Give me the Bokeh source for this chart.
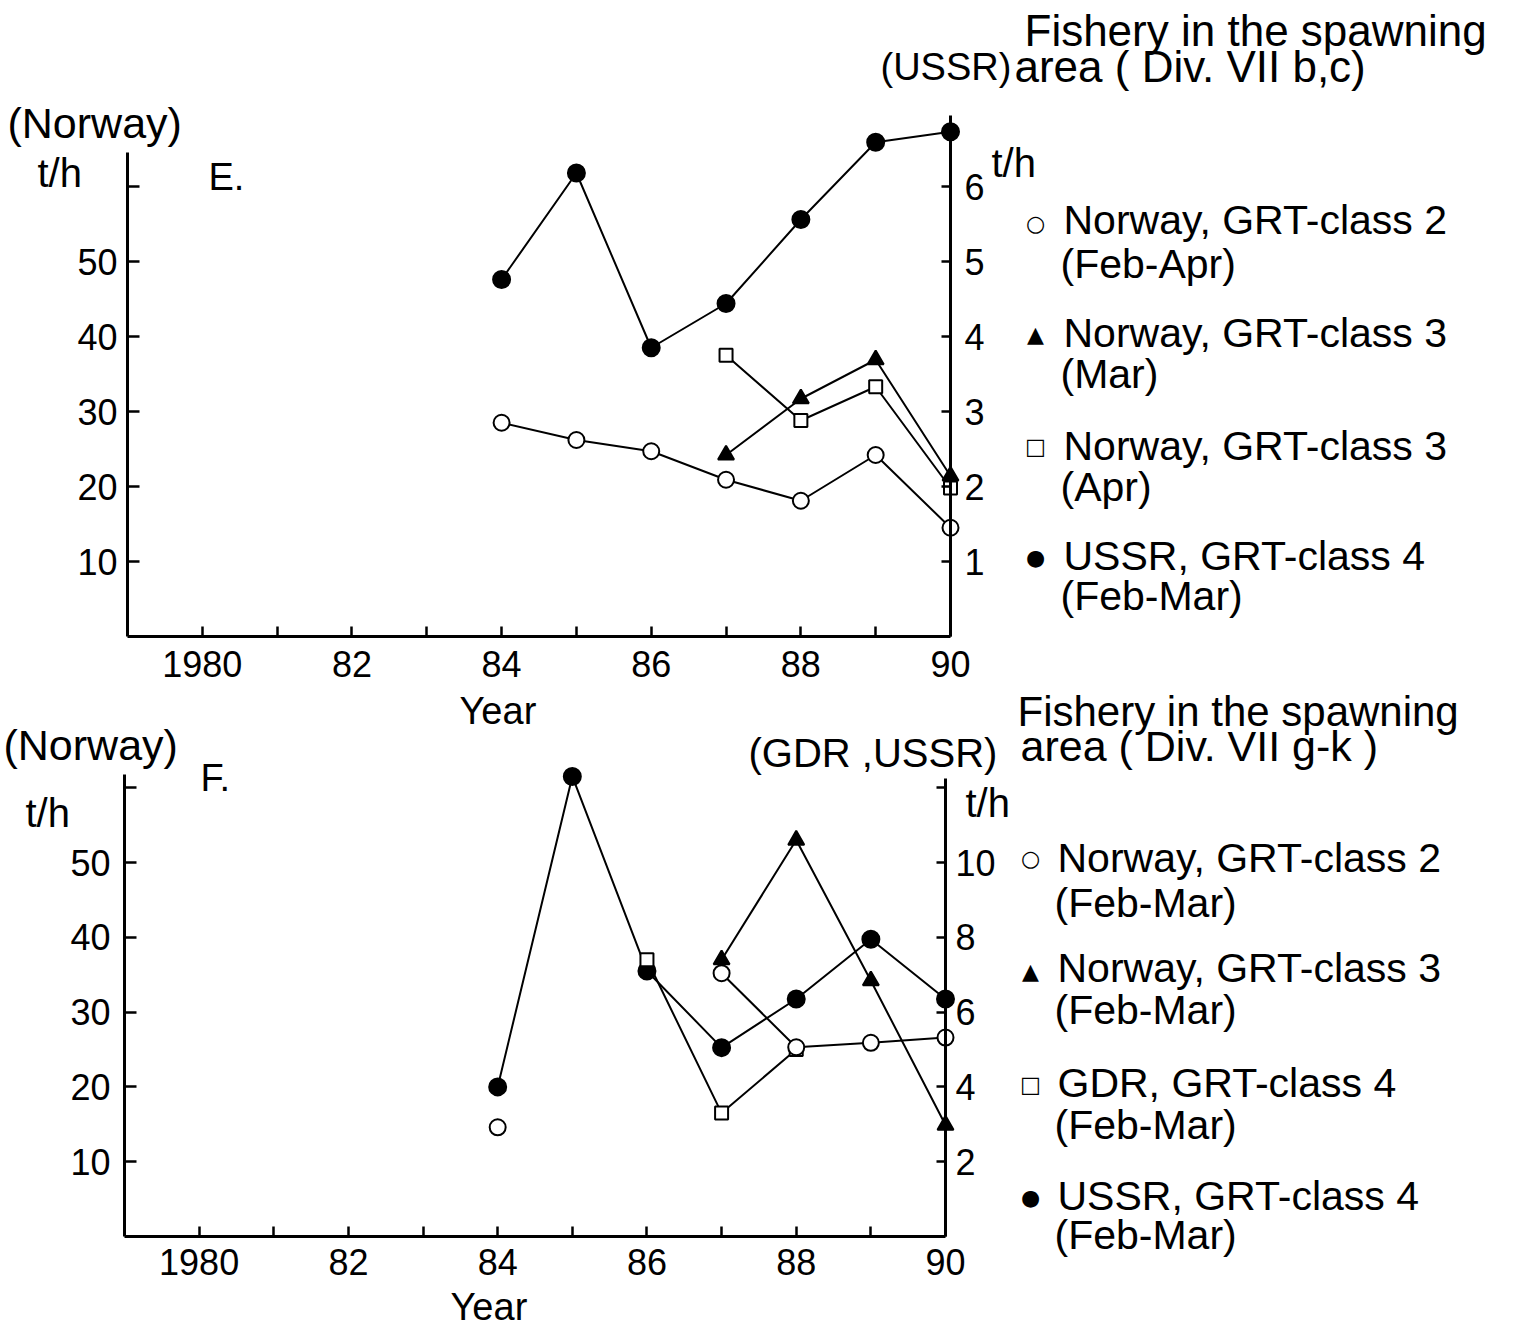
from bokeh.plotting import figure
from bokeh.models import Range1d, LinearAxis, FixedTicker, Label
from bokeh.layouts import column
from bokeh.embed import file_html
from bokeh.resources import INLINE

NAN = float("nan")

# ---------------- data ----------------
years = [1984, 1985, 1986, 1987, 1988, 1989, 1990]
years_late = [1987, 1988, 1989, 1990]
years_gdr = [1986, 1987, 1988]

# Panel E (Div. VII b,c)
e_norway_c2 = [28.5, 26.2, 24.7, 20.9, 18.1, 24.2, 14.5]      # left axis, Feb-Apr
e_norway_c3_mar = [24.2, 31.7, 36.9, 21.4]                    # left axis, 1987-90
e_norway_c3_apr = [37.5, 28.8, 33.3, 19.8]                    # left axis, 1987-90
e_ussr_c4 = [4.76, 6.18, 3.85, 4.44, 5.56, 6.59, 6.73]        # right axis

# Panel F (Div. VII g-k)
f_norway_c2 = [14.6, NAN, NAN, 35.2, 25.3, 25.9, 26.6]        # left axis
f_norway_c3 = [37.0, 53.0, 34.2, 14.9]                        # left axis, 1987-90
f_gdr_c4 = [7.4, 3.3, 5.0]                                    # right axis, 1986-88
f_ussr_c4 = [4.0, 12.3, 7.1, 5.05, 6.35, 7.95, 6.35]          # right axis

x_ticks = list(range(1980, 1991))
x_tick_labels = {1980: "1980", 1982: "82", 1984: "84", 1986: "86", 1988: "88", 1990: "90",
                 1981: "", 1983: "", 1985: "", 1987: "", 1989: ""}
left_ticks = [10, 20, 30, 40, 50, 60]
left_tick_labels = {60: ""}
e_right_ticks = [1, 2, 3, 4, 5, 6]
f_right_ticks = [2, 4, 6, 8, 10, 12]
f_right_tick_labels = {12: ""}

e_legend = [("○", "Norway, GRT-class 2", "(Feb-Apr)"),
            ("▲", "Norway, GRT-class 3", "(Mar)"),
            ("□", "Norway, GRT-class 3", "(Apr)"),
            ("●", "USSR, GRT-class 4", "(Feb-Mar)")]
f_legend = [("○", "Norway, GRT-class 2", "(Feb-Mar)"),
            ("▲", "Norway, GRT-class 3", "(Feb-Mar)"),
            ("□", "GDR, GRT-class 4", "(Feb-Mar)"),
            ("●", "USSR, GRT-class 4", "(Feb-Mar)")]

# ---------------- layout ----------------
W = 1523
X0, X1 = 1979, 1990
FONT = "Liberation Sans"


class Panel:
    """A figure whose frame fills the whole canvas; axes are pinned inside it."""

    def __init__(self, page_top, height, fl, fr, zero_y, ppu, ratio,
                 right_ticks, right_labels, left_bound, right_bound,
                 left_standoff, bottom_standoff, right_standoff):
        self.page_top = page_top
        self.zero_y = zero_y
        self.ppu = ppu
        self.xpp = (X1 - X0) / (fr - fl)
        self.xs = X0 - fl * self.xpp
        xe = X0 + (W - fl) * self.xpp
        ytop = (zero_y - page_top) / ppu
        ybot = (zero_y - (page_top + height)) / ppu
        p = figure(width=W, height=height, title=None, toolbar_location=None,
                   output_backend="svg", x_axis_type=None, y_axis_type=None,
                   x_range=Range1d(self.xs, xe), y_range=Range1d(ybot, ytop))
        p.min_border = 0
        p.min_border_left = p.min_border_right = p.min_border_top = p.min_border_bottom = 0
        p.outline_line_color = None
        p.background_fill_color = "white"
        p.border_fill_color = "white"
        p.extra_y_ranges = {"r": Range1d(ybot / ratio, ytop / ratio)}

        common = dict(axis_line_width=3, axis_line_color="black",
                      major_tick_line_width=2.5, major_tick_line_color="black",
                      minor_tick_line_color=None, major_label_text_color="black",
                      major_label_text_font=FONT, major_label_text_font_size="36px")
        xa = LinearAxis(ticker=FixedTicker(ticks=x_ticks), major_label_overrides=x_tick_labels,
                        major_tick_in=10, major_tick_out=0,
                        major_label_standoff=bottom_standoff,
                        fixed_location=0, bounds=(X0, X1), **common)
        p.add_layout(xa, "below")
        ya = LinearAxis(ticker=FixedTicker(ticks=left_ticks),
                        major_label_overrides=left_tick_labels,
                        major_tick_in=12, major_tick_out=0,
                        major_label_standoff=left_standoff,
                        fixed_location=X0, bounds=(0, left_bound), **common)
        p.add_layout(ya, "left")
        yr = LinearAxis(y_range_name="r", ticker=FixedTicker(ticks=right_ticks),
                        major_label_overrides=right_labels,
                        major_tick_in=9, major_tick_out=0,
                        major_label_standoff=right_standoff,
                        fixed_location=X1, bounds=(0, right_bound), **common)
        p.add_layout(yr, "right")
        self.p = p

    def text(self, text, px, py, size, font=FONT, align="left"):
        x = self.xs + px * self.xpp
        y = (self.zero_y - py) / self.ppu
        self.p.add_layout(Label(x=x, y=y, text=text, text_font=font,
                                text_font_size=f"{size}px", text_align=align,
                                text_baseline="middle", text_color="black"))

    def legend(self, entries, sym_x, txt_x, rows):
        for (sym, l1, l2), (sy, y1, y2) in zip(entries, rows):
            self.text(sym, sym_x, sy, 22, font="DejaVu Sans", align="center")
            self.text(l1, txt_x, y1, 41)
            self.text(l2, txt_x - 3, y2, 41)

    def series(self, xs, ys, marker, filled, size, right=False):
        kw = {"y_range_name": "r"} if right else {}
        self.p.line(xs, ys, line_color="black", line_width=2, **kw)
        self.p.scatter(xs, ys, marker=marker, size=size, line_color="black", line_width=2,
                       fill_color="black" if filled else "white", **kw)


SPLIT = 688

# ---------- Panel E ----------
E = Panel(page_top=0, height=SPLIT, fl=127, fr=950, zero_y=636, ppu=7.5, ratio=10.0,
          right_ticks=e_right_ticks, right_labels={}, left_bound=64.5, right_bound=6.95,
          left_standoff=10, bottom_standoff=14, right_standoff=14)
E.series(years, e_ussr_c4, "circle", True, 17, right=True)
E.series(years_late, e_norway_c3_apr, "square", False, 13)
E.series(years_late, e_norway_c3_mar, "triangle", True, 16)
E.series(years, e_norway_c2, "circle", False, 16)

E.text("(Norway)", 7, 122, 43)
E.text("t/h", 37, 172, 40)
E.text("E.", 208, 176, 38)
E.text("(USSR)", 880, 66, 38)
E.text("Fishery in the spawning", 1024, 30, 44)
E.text("area ( Div. VII b,c)", 1014, 66, 44)
E.text("t/h", 991, 162, 40)
E.legend(e_legend, 1035, 1063,
         [(223, 219, 263), (334, 332, 373), (446, 445, 486), (557, 555, 595)])

# ---------- Panel F ----------
F = Panel(page_top=SPLIT, height=1330 - SPLIT, fl=124, fr=945, zero_y=1236, ppu=7.48, ratio=5.0,
          right_ticks=f_right_ticks, right_labels=f_right_tick_labels,
          left_bound=61.8, right_bound=12.25,
          left_standoff=14, bottom_standoff=12, right_standoff=10)
F.series(years, f_ussr_c4, "circle", True, 17, right=True)
F.series(years_gdr, f_gdr_c4, "square", False, 13, right=True)
F.series(years_late, f_norway_c3, "triangle", True, 16)
F.series(years, f_norway_c2, "circle", False, 16)

# x-axis title of panel E lies in the same band as panel F's heading
F.text("Year", 459, 710, 38)
F.text("Fishery in the spawning", 1017, 711, 42)
F.text("(Norway)", 3, 744, 43)
F.text("(GDR ,USSR)", 748, 752, 40)
F.text("area ( Div. VII g-k )", 1020, 745, 43)
F.text("t/h", 25, 812, 40)
F.text("F.", 200, 777, 38)
F.text("t/h", 965, 802, 40)
F.text("Year", 450, 1306, 38)
F.legend(f_legend, 1030, 1057,
         [(858, 857, 902), (971, 967, 1009), (1084, 1082, 1124), (1197, 1195, 1234)])

layout = column(E.p, F.p)
open("out.html", "w").write(file_html(layout, INLINE))
